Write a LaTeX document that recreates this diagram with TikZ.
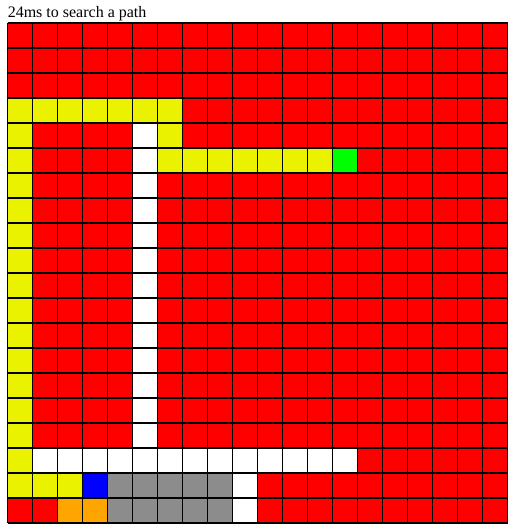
\documentclass[tikz,border=0pt]{standalone}
\usepackage{fontspec}
\setmainfont{Liberation Serif}
\definecolor{cred}{RGB}{255,0,0}
\definecolor{cyel}{RGB}{234,242,0}
\definecolor{cgreen}{RGB}{0,255,0}
\definecolor{cblue}{RGB}{0,0,255}
\definecolor{cgray}{RGB}{140,140,140}
\definecolor{corange}{RGB}{255,165,0}
\newcommand\cellsrect[5]{\fill[#5] ({7.5+25*#1},{23+25*#2}) rectangle ({7.5+25*(#3+1)},{23+25*(#4+1)});}
\tikzset{gridline/.style={draw=black,line width=1.2pt}}
\begin{document}
\begin{tikzpicture}[x=0.75pt,y=-0.75pt]
\useasboundingbox (0,0) rectangle (517,531);
\node[anchor=base west, inner sep=0pt, font=\fontsize{12pt}{14pt}\selectfont] (title) at (7.5,18) {24ms to search a path};
% background red
\cellsrect{0}{0}{19}{19}{cred}
% yellow path
\cellsrect{0}{3}{6}{3}{cyel}
\cellsrect{0}{4}{0}{17}{cyel}
\cellsrect{6}{4}{6}{5}{cyel}
\cellsrect{6}{5}{12}{5}{cyel}
\cellsrect{0}{18}{2}{18}{cyel}
% white
\cellsrect{5}{4}{5}{16}{white}
\cellsrect{1}{17}{13}{17}{white}
\cellsrect{9}{18}{9}{19}{white}
% others
\cellsrect{13}{5}{13}{5}{cgreen}
\cellsrect{3}{18}{3}{18}{cblue}
\cellsrect{4}{18}{8}{19}{cgray}
\cellsrect{2}{19}{3}{19}{corange}
% grid lines
\foreach \i in {0,...,20}{
  \draw[gridline] ({7.5+25*\i},23) -- ({7.5+25*\i},523);
  \draw[gridline] (7.5,{23+25*\i}) -- (507.5,{23+25*\i});
}
\end{tikzpicture}
\end{document}
